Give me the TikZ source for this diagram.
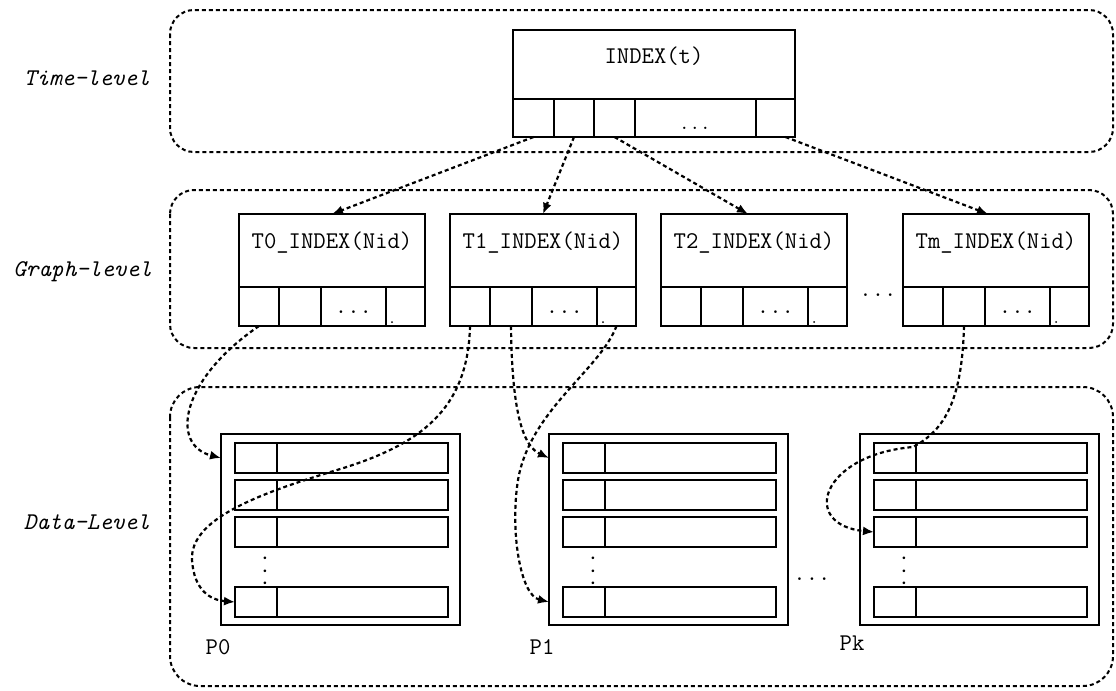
\documentclass[tikz,border=0pt]{standalone}
\usetikzlibrary{arrows.meta,fit,calc}
\begin{document}
\begin{tikzpicture}[x=0.5pt,y=-0.5pt,
  every node/.style={font=\fontsize{12}{14}\selectfont\ttfamily, inner sep=0pt, outer sep=0pt},
  boxst/.style={draw, line width=1pt, rectangle, inner sep=0pt, outer sep=0pt},
  container/.style={draw, line width=1pt, dash pattern=on 2pt off 1.5pt, rounded corners=#1},
  link/.style={draw, line width=1.1pt, dash pattern=on 2pt off 1.5pt, -{Latex[length=5.5pt,width=4.5pt]}},
  levellab/.style={anchor=east, font=\fontsize{12}{14}\selectfont\ttfamily\itshape}]
\useasboundingbox (0,0) rectangle (1116,691);

% level containers
\draw[container=12pt] (170,10) rectangle (1113,152);
\draw[container=12pt] (170,190) rectangle (1113,348);
\draw[container=15pt] (170,387) rectangle (1113,686);

% level labels
\node[levellab] (Lt) at (150,78) {Time-level};
\node[levellab] (Lg) at (152,272) {Graph-level};
\node[levellab] (Ld) at (150,522) {Data-Level};

% time index
\node[boxst, fit={(513,30) (795,99)}] (I) {INDEX(t)};
\node[boxst, fit={(513,99) (554,137)}] (I-c1) {};
\node[boxst, fit={(554,99) (594,137)}] (I-c2) {};
\node[boxst, fit={(594,99) (635,137)}] (I-c3) {};
\node[boxst, fit={(635,99) (756,137)}] (I-c4) {};
\node[boxst, fit={(756,99) (795,137)}] (I-c5) {};
\node[anchor=base] (I-dots) at (695,129) {$\ldots$};

% graph level
\foreach \n/\x in {T0/239,T1/450,T2/661,Tm/903} {
  \node[boxst, fit={(\x,214) (\x+186,287)}] (\n) {\n\_INDEX(Nid)};
  \node[boxst, fit={(\x,287) (\x+40,326)}] (\n-c1) {};
  \node[boxst, fit={(\x+40,287) (\x+82,326)}] (\n-c2) {};
  \node[boxst, fit={(\x+82,287) (\x+147,326)}] (\n-c3) {};
  \node[boxst, fit={(\x+147,287) (\x+186,326)}] (\n-c4) {};
  \node[anchor=base] (\n-dots) at (\x+114.5,313) {...};
  \fill (\x+153,322) circle (0.5pt);
}
\node (gdots) at (878,295) {...};

% data level
\foreach \n/\x in {P0/221,P1/549,Pk/860} {
  \node[boxst, fit={(\x,434) (\x+239,625)}] (\n) {};
  \foreach \i/\y in {1/443,2/480,3/517,4/587} {
    \node[boxst, fit={(\x+14,\y) (\x+227,\y+30)}] (\n-r\i) {};
    \node[boxst, fit={(\x+14,\y) (\x+56,\y+30)}] (\n-k\i) {};
  }
  \node[rotate=90] (\n-vd) at (\x+44,571) {...};
}
\node (lP0) at (218,647) {P0};
\node (lP1) at (542,647) {P1};
\node (lPk) at (852,643) {Pk};
\node (ddots) at (812,579) {...};

% time -> graph
\draw[link] (I-c1.south) -- (T0.north);
\draw[link] (I-c2.south) -- (T1.north);
\draw[link] (I-c3.south) -- ([xshift=-3pt]T2.north);
\draw[link] ([xshift=5pt]I-c5.south) -- ([xshift=-4pt]Tm.north);

% graph -> data
\draw[link] (T0-c1.south) .. controls (180,380) and (170,445) .. (P0.west |- P0-r1.west);
\draw[link] (T1-c1.south) .. controls (468,410) and (420,445) .. (337,470)
   .. controls (254,495) and (190,520) .. (192,560)
   .. controls (194,590) and (210,600) .. (P0-r4.west);
\draw[link] (T1-c2.south) .. controls (512,420) and (525,447) .. (P1.west |- P1-r1.west);
\draw[link] (T1-c4.south) .. controls (600,370) and (530,410) .. (518,480)
   .. controls (510,530) and (520,595) .. (P1.west |- P1-r4.west);
\draw[link] (Tm-c2.south) .. controls (962,400) and (945,430) .. (913,447)
   .. controls (820,455) and (800,525) .. (Pk-r3.west);
\end{tikzpicture}
\end{document}
